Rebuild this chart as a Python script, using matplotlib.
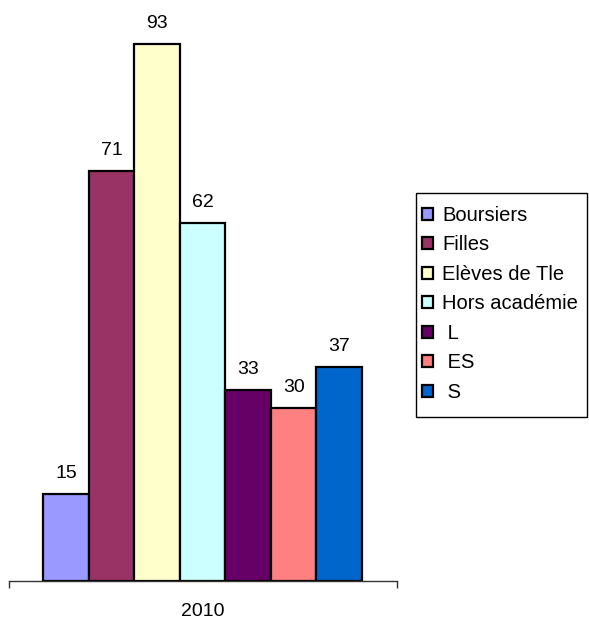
import numpy as np
import matplotlib.pyplot as plt

plt.rcParams['font.family'] = ['Liberation Sans', 'DejaVu Sans']

categories = ["Boursiers", "Filles", "Elèves de Tle", "Hors académie", " L", " ES", " S"]
values = [15, 71, 93, 62, 33, 30, 37]
colors = ["#9999FF", "#993366", "#FFFFCC", "#CCFFFF", "#660066", "#FF8080", "#0066CC"]
year_label = "2010"

fig = plt.figure(figsize=(5.89, 6.2), dpi=100)
ax = fig.add_axes([9 / 589, 39 / 620, 388 / 589, 581 / 620])

x = np.arange(len(values))
bars = ax.bar(x, values, width=1.0, color=colors, edgecolor="black", linewidth=1.6,
              label=categories)
for xi, v in zip(x, values):
    ax.text(xi, v + 2.1, str(v), ha="center", va="bottom", fontsize=14)

ax.set_xlim(-1.25, 7.27)
ax.set_ylim(0, 100.6)
for s in ["top", "right", "left"]:
    ax.spines[s].set_visible(False)
ax.spines["bottom"].set_linewidth(1.0)
ax.spines["bottom"].set_color("#333333")
ax.set_yticks([])
ax.set_xticks([-1.25, 7.27])
ax.set_xticklabels(["", ""])
ax.tick_params(axis="x", direction="out", length=5, width=1.0, color="#333333")
ax.text(0.5, -0.038, year_label, transform=ax.transAxes, ha="center", va="top", fontsize=14)

# legende sans cadre + cadre dessine a part (plus de marge en haut/bas)
handles = [plt.Rectangle((0, 0), 1, 1, facecolor=c, edgecolor="black", linewidth=1.6) for c in colors]
leg = fig.legend(handles, categories, loc="upper left", bbox_to_anchor=(422 / 589, 1 - 206 / 620),
                 frameon=False, fontsize=14.5,
                 handlelength=0.55, handleheight=0.55, handletextpad=0.45,
                 labelspacing=0.52, borderpad=0, borderaxespad=0)
frame = plt.Rectangle((416 / 589, 1 - 417 / 620), 171 / 589, 224 / 620, transform=fig.transFigure,
                      fill=False, edgecolor="black", linewidth=1.0)
fig.patches.append(frame)

fig.savefig("out.png", dpi=100)
